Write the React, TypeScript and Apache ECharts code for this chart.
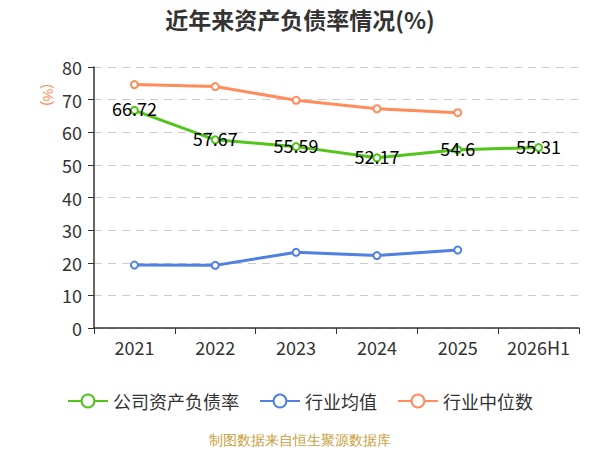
import React, { useRef, useEffect } from 'react';
import * as echarts from 'echarts';

const years = ['2021', '2022', '2023', '2024', '2025', '2026H1'];
const companyRatio = [66.72, 57.67, 55.59, 52.17, 54.6, 55.31];
const industryAvg = [19.3, 19.2, 23.2, 22.2, 23.9, null];
const industryMedian = [74.6, 74.0, 69.8, 67.2, 66.0, null];

const GREEN = '#52c41a';
const BLUE = '#4f80e2';
const ORANGE = '#ff8c5a';

const App: React.FC = () => {
  const chartRef = useRef<HTMLDivElement>(null);

  useEffect(() => {
    if (!chartRef.current) return;
    const chart = echarts.init(chartRef.current, undefined, { renderer: 'svg' });

    const lineSeries = (name: string, data: (number | null)[], color: string, showLabel: boolean) => ({
      name,
      type: 'line' as const,
      data,
      symbol: 'emptyCircle',
      symbolSize: 7,
      lineStyle: { color, width: 3 },
      itemStyle: { color, borderWidth: 2 },
      label: {
        show: showLabel,
        position: 'inside' as const,
        offset: [0, -2],
        color: '#000',
        fontSize: 18,
      },
    });

    chart.setOption({
      animation: false,
      backgroundColor: '#fff',
      textStyle: { fontFamily: '"Noto Sans CJK SC", "Noto Sans", sans-serif' },
      title: {
        text: '近年来资产负债率情况(%)',
        left: 'center',
        top: 2,
        textStyle: { fontSize: 23, fontWeight: 'bold', color: '#333' },
      },
      grid: { left: 94, right: 21, top: 67, bottom: 122 },
      legend: {
        top: 387,
        left: 'center',
        itemWidth: 40,
        itemHeight: 16,
        itemGap: 20,
        textStyle: { fontSize: 18, color: '#333' },
        data: ['公司资产负债率', '行业均值', '行业中位数'],
      },
      graphic: [
        {
          type: 'text',
          x: 55,
          y: 84,
          rotation: -Math.PI / 2,
          style: { text: '(%)', fill: ORANGE, fontSize: 14 },
        },
        {
          type: 'text',
          left: 'center',
          top: 433,
          style: { text: '制图数据来自恒生聚源数据库', fill: '#c9a03c', fontSize: 13.5 },
        },
      ],
      xAxis: {
        type: 'category',
        data: years,
        boundaryGap: true,
        axisLine: { lineStyle: { color: '#333', width: 1.5 } },
        axisTick: { show: true, length: 6, lineStyle: { color: '#333' } },
        axisLabel: { fontSize: 18, color: '#333', margin: 10, interval: 0 },
      },
      yAxis: {
        type: 'value',
        min: 0,
        max: 80,
        interval: 10,
        axisLine: { show: true, lineStyle: { color: '#333', width: 1.5 } },
        axisTick: { show: true, length: 6, lineStyle: { color: '#333' } },
        axisLabel: { fontSize: 18, color: '#333', margin: 12 },
        splitLine: { lineStyle: { color: '#ccc', type: [8, 6], width: 1.2 } },
      },
      series: [
        lineSeries('公司资产负债率', companyRatio, GREEN, true),
        lineSeries('行业均值', industryAvg, BLUE, false),
        lineSeries('行业中位数', industryMedian, ORANGE, false),
      ],
    });

    return () => {
      chart.dispose();
    };
  }, []);

  return (
    <div
      ref={chartRef}
      style={{ position: 'absolute', left: 0, top: 0, width: 600, height: 450 }}
    />
  );
};

export default App;
